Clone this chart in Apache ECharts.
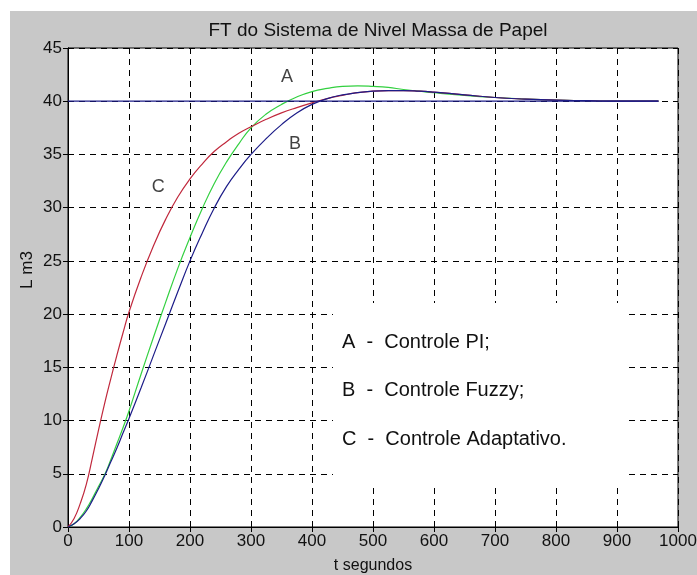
<!DOCTYPE html>
<html><head><meta charset="utf-8">
<script src="https://cdn.jsdelivr.net/npm/echarts@6/dist/echarts.min.js"></script>
<style>
html,body{margin:0;padding:0;background:#fff;width:697px;height:575px;overflow:hidden}
#c{position:absolute;left:10px;top:11px;width:687px;height:564px;background:#c8c8c8}
</style>
</head><body><div id="c"></div>
<script>
// time axis (segundos)
const t = [0,10,20,30,40,50,60,70,80,90,100,120,140,160,180,200,220,240,260,280,300,325,350,375,400,425,450,475,500,525,550,575,600,650,700,750,800,850,900,968];
// A - Controle PI (green)
const curveA = [0,0.3,0.9,1.7,2.7,3.8,4.9,6.3,7.8,9.3,10.9,14.4,17.8,21.1,24.3,27.2,29.9,32.3,34.3,36.0,37.5,38.8,39.7,40.4,40.9,41.2,41.4,41.45,41.4,41.3,41.1,40.95,40.8,40.55,40.35,40.2,40.1,40.05,40.0,40.0];
// B - Controle Fuzzy (blue)
const curveB = [0,0.3,0.8,1.5,2.5,3.6,4.8,6.1,7.4,8.8,10.2,13.1,16.1,19.1,22.1,25.0,27.6,30.0,32.0,33.6,35.0,36.5,37.8,38.9,39.7,40.25,40.6,40.8,40.95,41.0,41.0,40.95,40.85,40.6,40.35,40.2,40.1,40.05,40.0,40.0];
// C - Controle Adaptativo (red)
const curveC = [0,0.8,2.2,4.0,6.5,9.1,11.6,13.9,16.1,18.2,20.2,23.5,26.4,28.9,31.0,32.7,34.1,35.3,36.2,37.0,37.6,38.3,38.9,39.4,39.85,40.25,40.55,40.8,40.95,41.0,41.0,40.95,40.85,40.6,40.35,40.2,40.1,40.05,40.0,40.0];
// setpoint
const setpointT = [0, 968];
const setpointV = [40, 40];
// curve annotations
const annotations = [[359, 42.3, 'A'], [372, 36.0, 'B'], [148, 31.9, 'C']];
const legendLines = ['A  -  Controle PI;', 'B  -  Controle Fuzzy;', 'C  -  Controle Adaptativo.'];
const xTicks = {min: 0, max: 1000, interval: 100};
const yTicks = {min: 0, max: 45, interval: 5};

const FONT = "'Liberation Sans',Arial,sans-serif";
const zip = (xs, ys) => xs.map((x, i) => [x, ys[i]]);

const chart = echarts.init(document.getElementById('c'), null, {renderer: 'canvas'});
const dash = {type: [6, 5], color: '#000', width: 1};
const baseX = {type: 'value', min: xTicks.min, max: xTicks.max, interval: xTicks.interval};
const baseY = {type: 'value', min: yTicks.min, max: yTicks.max, interval: yTicks.interval};
const legendTexts = legendLines.map((s, i) => ({
  type: 'text', left: 332, top: 321 + i * 48.5, z: 20,
  style: {text: s, fill: '#111', font: "20px 'Liberation Sans',Arial,sans-serif"}
}));

chart.setOption({
  animation: false,
  backgroundColor: 'transparent',
  title: {
    text: 'FT do Sistema de Nivel Massa de Papel', left: 363, top: 5, textAlign: 'center',
    textStyle: {fontFamily: FONT, fontSize: 19, fontWeight: 'normal', color: '#111'}
  },
  grid: {left: 58, top: 37, width: 610, height: 479, show: true, backgroundColor: '#fff', borderColor: '#000', borderWidth: 1, containLabel: false, outerBoundsMode: 'none'},
  xAxis: [
    Object.assign({}, baseX, {
      position: 'bottom',
      name: 't segundos', nameLocation: 'middle', nameGap: 31,
      nameTextStyle: {fontFamily: FONT, fontSize: 16, color: '#111'},
      axisLine: {show: true, lineStyle: {color: '#000'}},
      axisTick: {show: true, inside: true, length: 5, lineStyle: {color: '#000'}},
      axisLabel: {fontFamily: FONT, fontSize: 17, color: '#111', margin: 6, formatter: v => String(v)},
      splitLine: {show: true, lineStyle: dash}
    }),
    Object.assign({}, baseX, {
      position: 'top',
      axisLine: {show: true, lineStyle: {color: '#000'}},
      axisTick: {show: true, inside: true, length: 5, lineStyle: {color: '#000'}},
      axisLabel: {show: false}, splitLine: {show: false}
    })
  ],
  yAxis: [
    Object.assign({}, baseY, {
      position: 'left',
      axisLine: {show: true, lineStyle: {color: '#000'}},
      axisTick: {show: true, inside: true, length: 5, lineStyle: {color: '#000'}},
      axisLabel: {fontFamily: FONT, fontSize: 17, color: '#111', margin: 6, formatter: v => String(v)},
      splitLine: {show: true, lineStyle: dash}
    }),
    Object.assign({}, baseY, {
      position: 'right',
      axisLine: {show: true, lineStyle: {color: '#000'}},
      axisTick: {show: true, inside: true, length: 5, lineStyle: {color: '#000'}},
      axisLabel: {show: false}, splitLine: {show: false}
    })
  ],
  graphic: [
    {type: 'rect', left: 323, top: 292, z: 10, shape: {width: 295, height: 180}, style: {fill: '#fff'}},
    {type: 'text', x: 17, y: 259, rotation: Math.PI / 2, z: 20,
      style: {text: 'L m3', fill: '#111', font: "17px 'Liberation Sans',Arial,sans-serif", align: 'center', verticalAlign: 'middle'}}
  ].concat(legendTexts),
  series: [
    {type: 'line', name: 'A', data: zip(t, curveA), smooth: 0.5, showSymbol: false, symbol: 'none', lineStyle: {color: '#33d040', width: 1.2}, z: 3},
    {type: 'line', name: 'C', data: zip(t, curveC), smooth: 0.5, showSymbol: false, symbol: 'none', lineStyle: {color: '#c0283c', width: 1.2}, z: 4},
    {type: 'line', name: 'B', data: zip(t, curveB), smooth: 0.5, showSymbol: false, symbol: 'none', lineStyle: {color: '#1c1c88', width: 1.2}, z: 5},
    {type: 'line', name: 'ref', data: zip(setpointT, setpointV), showSymbol: false, symbol: 'none', lineStyle: {color: '#1c1c88', width: 1.2}, z: 6},
    {type: 'scatter', data: annotations, symbolSize: 0, silent: true, z: 7,
      label: {show: true, position: 'inside', formatter: p => p.value[2], fontFamily: FONT, fontSize: 18, color: '#111'}}
  ]
});
</script></body></html>
